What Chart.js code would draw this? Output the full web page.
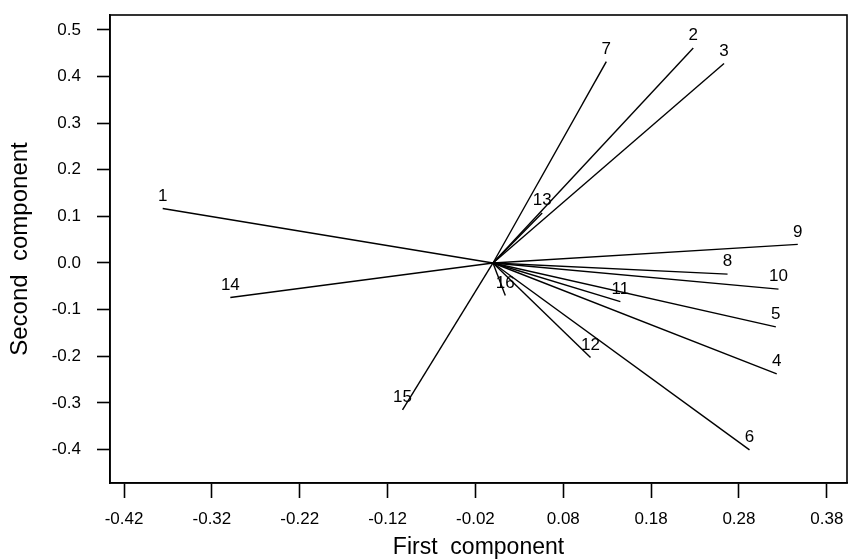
<!DOCTYPE html>
<html>
<head>
<meta charset="utf-8">
<script src="https://cdn.jsdelivr.net/npm/chart.js@4"></script>
<style>
  html, body { margin: 0; padding: 0; background: #fff; }
  #wrap { width: 848px; height: 560px; }
</style>
</head>
<body>
<div id="wrap"><canvas id="chart"></canvas></div>
<script>
// --- Dane: ladunki zmiennych (pierwsza i druga skladowa) ---
const varLabels = ['1','2','3','4','5','6','7','8','9','10','11','12','13','14','15','16'];
const firstComp = [-0.376, 0.228, 0.263, 0.323, 0.322, 0.292, 0.129, 0.267, 0.347, 0.325, 0.145, 0.111, 0.056, -0.299, -0.103, 0.014];
const secondComp = [0.117, 0.461, 0.428, -0.238, -0.137, -0.401, 0.432, -0.024, 0.040, -0.056, -0.083, -0.203, 0.107, -0.074, -0.315, -0.070];

const xTicks = [-0.42, -0.32, -0.22, -0.12, -0.02, 0.08, 0.18, 0.28, 0.38];
const yTicks = [-0.4, -0.3, -0.2, -0.1, 0.0, 0.1, 0.2, 0.3, 0.4, 0.5];

const FONT = 'Arial, "Liberation Sans", sans-serif';

// --- Linie od poczatku ukladu ---
const datasets = varLabels.map((lab, i) => ({
  label: lab,
  data: [{x: 0, y: 0}, {x: firstComp[i], y: secondComp[i]}],
  showLine: true,
  borderColor: '#000',
  borderWidth: 1.4,
  pointRadius: 0,
  fill: false
}));

// --- Ramka i numery zmiennych ---
const biplotDecor = {
  id: 'biplotDecor',
  afterDatasetsDraw(chart) {
    const {ctx, chartArea: a, scales: {x, y}} = chart;
    ctx.save();
    ctx.strokeStyle = '#000';
    ctx.lineWidth = 1.6;
    ctx.strokeRect(a.left, a.top, a.right - a.left, a.bottom - a.top);
    ctx.fillStyle = '#000';
    ctx.font = '17px ' + FONT;
    ctx.textAlign = 'center';
    ctx.textBaseline = 'bottom';
    varLabels.forEach((lab, i) => {
      ctx.fillText(lab, x.getPixelForValue(firstComp[i]), y.getPixelForValue(secondComp[i]) - 4);
    });
    ctx.restore();
  }
};

new Chart(document.getElementById('chart'), {
  type: 'scatter',
  data: { datasets },
  options: {
    responsive: true,
    maintainAspectRatio: false,
    animation: false,
    layout: { padding: { top: 15, right: 1, bottom: 0, left: 0 } },
    plugins: { legend: { display: false }, tooltip: { enabled: false } },
    scales: {
      x: {
        type: 'linear',
        min: -0.436, max: 0.403,
        afterBuildTicks: s => { s.ticks = xTicks.map(v => ({value: v})); },
        afterFit: s => { s.height = 77; s.paddingLeft = 0; s.paddingRight = 0; },
        ticks: { color: '#000', font: { size: 17, family: FONT }, padding: 11, maxRotation: 0,
                  callback: v => v.toFixed(2) },
        grid: { drawOnChartArea: false, drawTicks: true, tickLength: 15, tickColor: '#000', tickWidth: 1.6 },
        border: { display: true, color: '#000', width: 1.6 },
        title: { display: true, text: 'First  component', color: '#000',
                 font: { size: 23, family: FONT }, padding: { top: 0, bottom: -1 } }
      },
      y: {
        type: 'linear',
        min: -0.472, max: 0.532,
        afterBuildTicks: s => { s.ticks = yTicks.map(v => ({value: v})); },
        afterFit: s => { s.width = 110; s.paddingTop = 0; s.paddingBottom = 0; },
        ticks: { color: '#000', font: { size: 17, family: FONT }, padding: 16,
                 callback: v => v.toFixed(1) },
        grid: { drawOnChartArea: false, drawTicks: true, tickLength: 13, tickColor: '#000', tickWidth: 1.6 },
        border: { display: true, color: '#000', width: 1.6 },
        title: { display: true, text: 'Second  component', color: '#000',
                 font: { size: 24, family: FONT }, padding: { top: 6, bottom: 0 } }
      }
    }
  },
  plugins: [biplotDecor]
});
</script>
</body>
</html>
